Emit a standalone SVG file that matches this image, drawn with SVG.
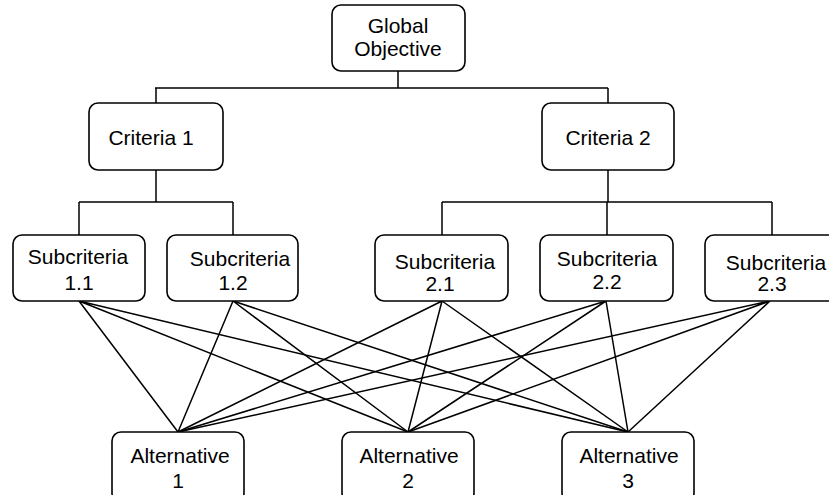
<svg xmlns="http://www.w3.org/2000/svg" width="829" height="495" viewBox="0 0 829 495">
<style>
.box{fill:#fff;stroke:#000;stroke-width:1.6}
.t{font-family:"Liberation Sans",Arial,sans-serif;font-size:21px;fill:#000;text-anchor:middle}
.c{stroke:#000;stroke-width:1.5;fill:none}
</style>
<rect width="829" height="495" fill="#fff"/>
<g id="connectors" class="c">
<path d="M398 71V88M155 88H608M156 88V103M608 88V103"/>
<path d="M156 170V202M79 202H233M79 202V235M233 202V235"/>
<path d="M608 170V202M442 202H772M442 202V235M607 202V235M772 202V235"/>
<path d="M79 301L178 432M79 301L408 432M79 301L628 432"/>
<path d="M233 301L178 432M233 301L408 432M233 301L628 432"/>
<path d="M442 301L178 432M442 301L408 432M442 301L628 432"/>
<path d="M606 301L178 432M606 301L408 432M606 301L628 432"/>
<path d="M770 301L178 432M770 301L408 432M770 301L628 432"/>
</g>
<g id="global"><rect class="box" x="332" y="5" width="133" height="66" rx="9"/><text class="t" x="398" y="33">Global</text><text class="t" x="398" y="56">Objective</text></g>
<g id="criteria1"><rect class="box" x="89" y="103" width="134" height="67" rx="9"/><text class="t" x="151" y="145">Criteria 1</text></g>
<g id="criteria2"><rect class="box" x="542" y="103" width="132" height="67" rx="9"/><text class="t" x="608" y="145">Criteria 2</text></g>
<g id="sub11"><rect class="box" x="13" y="235" width="132" height="66" rx="9"/><text class="t" x="78" y="264">Subcriteria</text><text class="t" x="79" y="290">1.1</text></g>
<g id="sub12"><rect class="box" x="167" y="235" width="131" height="66" rx="9"/><text class="t" x="240" y="266">Subcriteria</text><text class="t" x="233" y="290">1.2</text></g>
<g id="sub21"><rect class="box" x="375" y="235" width="133" height="66" rx="9"/><text class="t" x="445" y="269">Subcriteria</text><text class="t" x="440" y="291">2.1</text></g>
<g id="sub22"><rect class="box" x="540" y="235" width="133" height="66" rx="9"/><text class="t" x="607" y="266">Subcriteria</text><text class="t" x="607" y="289">2.2</text></g>
<g id="sub23"><rect class="box" x="705" y="235" width="133" height="66" rx="9"/><text class="t" x="776" y="270">Subcriteria</text><text class="t" x="772" y="291">2.3</text></g>
<g id="alt1"><rect class="box" x="112" y="432" width="132" height="70" rx="9"/><text class="t" x="180" y="463">Alternative</text><text class="t" x="178" y="488">1</text></g>
<g id="alt2"><rect class="box" x="342" y="432" width="132" height="70" rx="9"/><text class="t" x="409" y="463">Alternative</text><text class="t" x="408" y="488">2</text></g>
<g id="alt3"><rect class="box" x="562" y="432" width="132" height="70" rx="9"/><text class="t" x="629" y="463">Alternative</text><text class="t" x="628" y="488">3</text></g>
</svg>
